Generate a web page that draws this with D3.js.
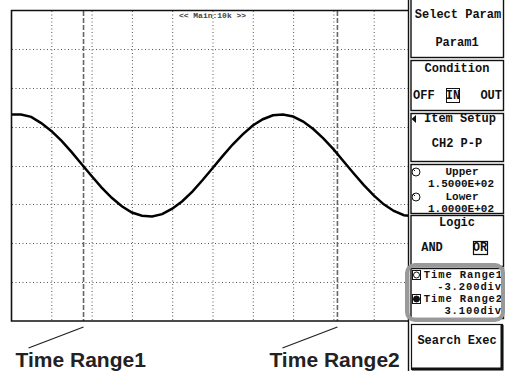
<!DOCTYPE html>
<html>
<head>
<meta charset="utf-8">
<script src="https://cdn.jsdelivr.net/npm/d3@7"></script>
<style>
body { margin: 0; background: #fff; }
svg { display: block; }
.mono { font-family: "Liberation Mono", "DejaVu Sans Mono", monospace; font-weight: bold; }
</style>
</head>
<body>
<svg id="chart" width="505" height="371"></svg>
<script>
// waveform in divisions (x: 0..10, y: -4..4)
const waveX = [0, 0.25, 0.5, 0.75, 1.0, 1.25, 1.5, 1.75, 2.0, 2.25, 2.5, 2.75, 3.0, 3.25, 3.5, 3.75, 4.0, 4.25, 4.5, 4.75,
  5.0, 5.25, 5.5, 5.75, 6.0, 6.25, 6.5, 6.75, 7.0, 7.25, 7.5, 7.75, 8.0, 8.25, 8.5, 8.75, 9.0, 9.25, 9.5, 9.75, 10.0];
const waveY = [1.31, 1.31, 1.25, 1.09, 0.89, 0.64, 0.35, 0.04, -0.27, -0.57, -0.83, -1.05, -1.21, -1.29, -1.31, -1.25,
  -1.11, -0.92, -0.67, -0.38, -0.07, 0.24, 0.54, 0.80, 1.03, 1.19, 1.29, 1.31, 1.26, 1.13, 0.94, 0.70, 0.42, 0.11,
  -0.20, -0.50, -0.77, -1.00, -1.17, -1.28, -1.31];

const gridX = [1, 2, 3, 4, 5, 6, 7, 8, 9];
const gridY = [-3, -2, -1, 0, 1, 2, 3];

const cursorNames = ["Time Range1", "Time Range2"];
const cursorDiv = [-3.2, 3.1];
const cursorText = ["-3.200div", "3.100div"];

const topLabel = "<< Main:10k >>";

const svg = d3.select("#chart");

const x = d3.scaleLinear().domain([0, 10]).range([11, 414]);
const y = d3.scaleLinear().domain([-4, 4]).range([321, 10]);

const plotRight = 408.5;

const plot = svg.append("g");

plot.append("clipPath").attr("id", "clip")
  .append("rect").attr("x", 11).attr("y", 10).attr("width", plotRight - 11).attr("height", 311);

// grid
plot.selectAll(".gx").data(gridX).enter().append("line")
  .attr("x1", d => x(d) + 0.5).attr("x2", d => x(d) + 0.5)
  .attr("y1", 11).attr("y2", 321)
  .attr("stroke", "#555").attr("stroke-width", 1).attr("stroke-dasharray", "1,2.5");

plot.selectAll(".gy").data(gridY).enter().append("line")
  .attr("x1", 12).attr("x2", plotRight)
  .attr("y1", d => Math.round(y(d)) + 0.5).attr("y2", d => Math.round(y(d)) + 0.5)
  .attr("stroke", "#555").attr("stroke-width", 1).attr("stroke-dasharray", "1,2.5");

// cursors
plot.selectAll(".cur").data(cursorDiv).enter().append("line")
  .attr("x1", d => x(5 + d)).attr("x2", d => x(5 + d))
  .attr("y1", 11).attr("y2", 321)
  .attr("stroke", "#666").attr("stroke-width", 1.6).attr("stroke-dasharray", "5,2");

// waveform
const line = d3.line().x((d, i) => x(waveX[i])).y(d => y(d));
plot.append("path")
  .datum(waveY)
  .attr("clip-path", "url(#clip)")
  .attr("d", line)
  .attr("fill", "none")
  .attr("stroke", "#000")
  .attr("stroke-width", 2.5);

// frame
plot.append("path")
  .attr("d", `M${plotRight},10.5 H11.5 V321 H${plotRight}`)
  .attr("fill", "none").attr("stroke", "#111").attr("stroke-width", 1.6);
plot.append("line")
  .attr("x1", plotRight).attr("x2", plotRight).attr("y1", 0).attr("y2", 371)
  .attr("stroke", "#111").attr("stroke-width", 1.4);

plot.append("text").attr("class", "mono")
  .attr("x", x(5)).attr("y", 18)
  .attr("text-anchor", "middle")
  .attr("font-size", "8px").attr("font-weight", "normal")
  .attr("fill", "#444")
  .text(topLabel);

// leaders + captions
const leaders = svg.append("g");
cursorDiv.forEach((d, i) => {
  const cx = x(5 + d);
  leaders.append("line")
    .attr("x1", cx).attr("y1", 327)
    .attr("x2", cx - 55).attr("y2", 348)
    .attr("stroke", "#222").attr("stroke-width", 1.3);
  leaders.append("text")
    .attr("x", cx - 68).attr("y", 367)
    .attr("font-family", "Liberation Sans, Arial, sans-serif")
    .attr("font-weight", "bold")
    .attr("font-size", "21px")
    .attr("fill", "#222")
    .text(cursorNames[i]);
});

/* SIDE PANEL */

const panel = svg.append("g").attr("class", "mono").attr("font-size", "12px").attr("fill", "#111");

const boxes = [[-3, 57], [60, 110], [113, 161], [164, 213], [215, 266], [268, 318]];
panel.selectAll(".box").data(boxes).enter().append("rect")
  .attr("x", 411).attr("y", d => d[0] + 0.5)
  .attr("width", 92.5).attr("height", d => d[1] - d[0])
  .attr("fill", "#fff").attr("stroke", "#111").attr("stroke-width", 1.4);

function txt(str, tx, ty, anchor, size) {
  return panel.append("text")
    .attr("x", tx).attr("y", ty)
    .attr("text-anchor", anchor || "middle")
    .attr("dominant-baseline", "central")
    .attr("font-size", size || "12px")
    .text(str);
}

txt("Select Param", 458, 15);
txt("Param1", 457, 43);
txt("Condition", 457, 69);
txt("OFF", 413, 96, "start");
txt("IN", 453, 96);
txt("OUT", 502, 96, "end");
panel.append("rect").attr("x", 446.5).attr("y", 88.5).attr("width", 13).attr("height", 14)
  .attr("fill", "none").attr("stroke", "#111").attr("stroke-width", 1);

panel.append("path").attr("d", "M411.5,119 L416,115 L416,123 Z").attr("fill", "#111");
txt("Item Setup", 460, 119);
txt("CH2 P-P", 457, 144);

txt("Upper", 462, 172, "middle", "11px");
txt("1.5000E+02", 461, 184, "middle", "11px");
txt("Lower", 462, 197, "middle", "11px");
txt("1.0000E+02", 461, 209, "middle", "11px");
[172, 197].forEach(cy => {
  panel.append("circle").attr("cx", 416).attr("cy", cy).attr("r", 4)
    .attr("fill", "#fff").attr("stroke", "#111").attr("stroke-width", 1);
  panel.append("line").attr("x1", 413).attr("y1", cy - 3).attr("x2", 415).attr("y2", cy - 1)
    .attr("stroke", "#111").attr("stroke-width", 1);
});

txt("Logic", 457, 223);
txt("AND", 432, 248);
txt("OR", 480, 248);
panel.append("rect").attr("x", 473.5).attr("y", 241.5).attr("width", 14).attr("height", 13)
  .attr("fill", "none").attr("stroke", "#111").attr("stroke-width", 1.2);

// time range box
const trRows = [275, 299];
cursorNames.forEach((name, i) => {
  txt(name, 503, trRows[i], "end", "10.5px").attr("letter-spacing", "0.9px");
  txt(cursorText[i], 502, trRows[i] + 12, "end", "10.5px").attr("letter-spacing", "0.9px");
});
[[275, "#fff"], [299, "#111"]].forEach(d => {
  panel.append("rect").attr("x", 412.5).attr("y", d[0] - 4.5).attr("width", 8).attr("height", 9)
    .attr("fill", "#fff").attr("stroke", "#111").attr("stroke-width", 1);
  panel.append("circle").attr("cx", 416.5).attr("cy", d[0]).attr("r", 3)
    .attr("fill", d[1]).attr("stroke", "#111").attr("stroke-width", 1);
});

panel.append("rect")
  .attr("x", 407).attr("y", 265).attr("width", 96).attr("height", 55).attr("rx", 8)
  .attr("fill", "none").attr("stroke", "#999").attr("stroke-width", 4);

// search exec button
panel.append("rect").attr("x", 411.5).attr("y", 324.5).attr("width", 91).attr("height", 45)
  .attr("fill", "#fff").attr("stroke", "#111").attr("stroke-width", 1.2);
panel.append("path").attr("d", "M502,325 V369 H412")
  .attr("fill", "none").attr("stroke", "#111").attr("stroke-width", 3);
txt("Search Exec", 457, 341);
</script>
</body>
</html>
